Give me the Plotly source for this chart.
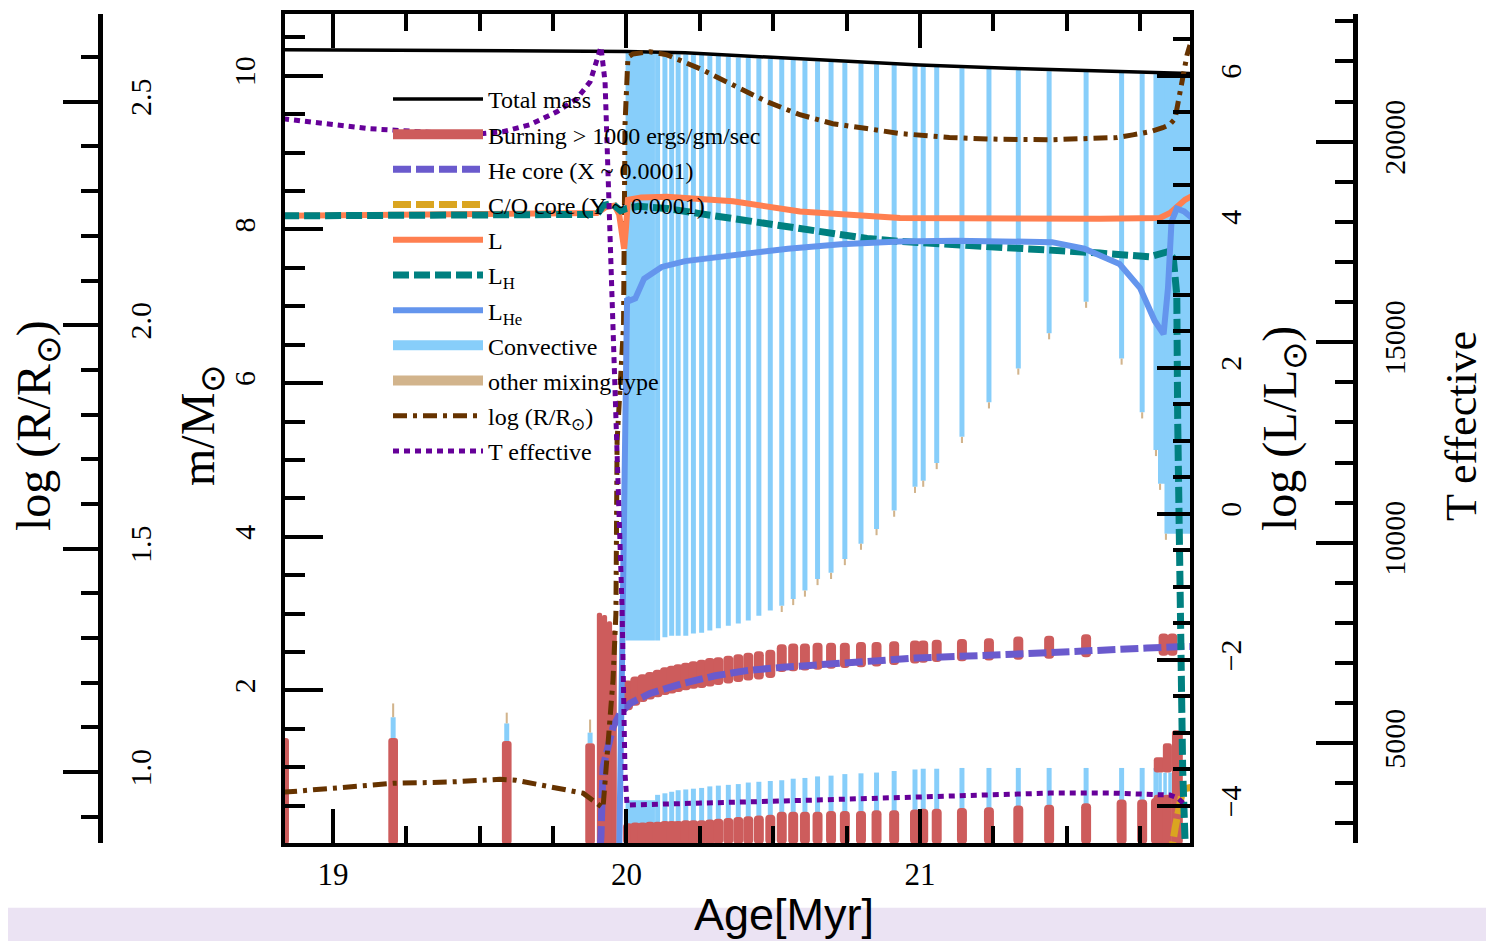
import plotly.graph_objects as go

# ---------------- data ----------------
# Total mass (m/Msun)
mass_age = [18.83, 19.90, 20.0, 20.2, 20.4, 20.6, 20.8, 21.0, 21.3, 21.6, 21.927]
mass_val = [10.34, 10.325, 10.318, 10.30, 10.26, 10.22, 10.18, 10.14, 10.10, 10.065, 10.03]

# Envelope convective stripes (age, lower / upper boundary in m/Msun)
conv_age = [20.106, 20.131, 20.154, 20.176, 20.202, 20.228, 20.256, 20.284, 20.313, 20.347,
            20.381, 20.415, 20.451, 20.490, 20.529, 20.568, 20.608, 20.651, 20.697, 20.744,
            20.799, 20.852, 20.912, 20.983, 21.011, 21.057, 21.143, 21.235, 21.335, 21.440,
            21.566, 21.687, 21.757, 21.804]
conv_bot = [2.65, 2.69, 2.71, 2.71, 2.71, 2.74, 2.75, 2.78, 2.81, 2.84,
            2.87, 2.91, 2.97, 3.04, 3.10, 3.19, 3.30, 3.45, 3.53, 3.71,
            3.91, 4.10, 4.34, 4.65, 4.73, 4.96, 5.30, 5.75, 6.19, 6.65,
            7.06, 6.32, 5.62, 5.13]
conv_top = [10.29, 10.29, 10.29, 10.28, 10.28, 10.27, 10.27, 10.26, 10.26, 10.25,
            10.24, 10.24, 10.23, 10.22, 10.22, 10.21, 10.20, 10.19, 10.18, 10.17,
            10.16, 10.15, 10.14, 10.13, 10.12, 10.12, 10.10, 10.09, 10.08, 10.06,
            10.05, 10.04, 10.03, 10.02]
# Wide convective blocks
blk_age = [20.047, 21.823, 21.879]
blk_bot = [2.65, 4.69, 4.04]
blk_top = [10.30, 10.02, 10.01]
blk_w = [0.100, 0.024, 0.092]

# Central convective core stripes
core_conv_age = [20.047] + conv_age + [21.818, 21.835, 21.852]
core_conv_bot = [0.0] * 35 + [0.64, 0.64, 0.64]
core_conv_top = [0.57, 0.64, 0.66, 0.68, 0.70, 0.71, 0.72, 0.73, 0.75, 0.76,
                 0.77, 0.78, 0.80, 0.81, 0.82, 0.83, 0.85, 0.86, 0.88, 0.89,
                 0.91, 0.92, 0.93, 0.95, 0.97, 0.98, 0.98, 0.99, 0.99, 0.99,
                 0.99, 0.99, 0.99, 0.99, 0.99, 0.93, 0.93, 0.93]
core_conv_w = [0.100] + [0.017] * 34 + [0.012, 0.012, 0.012]

# Early convective tips (before 20 Myr)
pre_conv_age = [19.205, 19.592, 19.876]
pre_conv_bot = [1.38, 1.34, 1.31]
pre_conv_top = [1.65, 1.57, 1.45]

# Other mixing type (small tan tips)
other_age = [19.205, 19.592, 19.876, 20.529, 20.568, 20.608, 20.651, 20.697, 20.744, 20.799,
             20.852, 20.912, 20.983, 21.011, 21.057, 21.143, 21.235, 21.335, 21.440, 21.566,
             21.687, 21.757, 21.804, 21.818, 21.838]
other_bot = [1.65, 1.57, 1.45, 3.02, 3.11, 3.22, 3.37, 3.45, 3.63, 3.83,
             4.02, 4.26, 4.57, 4.65, 4.88, 5.22, 5.67, 6.11, 6.57, 6.98,
             6.24, 5.54, 5.05, 4.61, 3.96]
other_top = [1.83, 1.71, 1.62, 3.10, 3.19, 3.30, 3.45, 3.53, 3.71, 3.91,
             4.10, 4.34, 4.65, 4.73, 4.96, 5.30, 5.75, 6.19, 6.65, 7.06,
             6.32, 5.62, 5.13, 4.69, 4.04]

# Burning > 1000 erg/g/s : shell region
burn_shell_age = [20.005, 20.030, 20.055, 20.080, 20.106, 20.131, 20.154, 20.176, 20.202, 20.228,
                  20.256, 20.284, 20.313, 20.347, 20.381, 20.415, 20.451, 20.490, 20.529, 20.568,
                  20.608, 20.651, 20.697, 20.744, 20.799, 20.852, 20.912, 20.983, 21.011, 21.057,
                  21.143, 21.235, 21.335, 21.440, 21.566, 21.830, 21.860]
burn_shell_bot = [1.74, 1.80, 1.85, 1.88, 1.91, 1.94, 1.96, 1.98, 2.00, 2.02,
                  2.03, 2.05, 2.07, 2.09, 2.11, 2.13, 2.14, 2.16, 2.24, 2.25,
                  2.26, 2.27, 2.28, 2.29, 2.30, 2.31, 2.33, 2.35, 2.36, 2.37,
                  2.38, 2.39, 2.40, 2.41, 2.43, 2.45, 2.45]
burn_shell_top = [2.13, 2.18, 2.21, 2.24, 2.27, 2.30, 2.32, 2.34, 2.36, 2.38,
                  2.40, 2.42, 2.43, 2.45, 2.47, 2.49, 2.51, 2.53, 2.60, 2.61,
                  2.61, 2.62, 2.62, 2.62, 2.63, 2.63, 2.64, 2.65, 2.65, 2.66,
                  2.67, 2.68, 2.70, 2.71, 2.73, 2.74, 2.74]
# Burning : central region
burn_core_age = [20.005, 20.030, 20.055, 20.080] + conv_age
burn_core_top = [0.27, 0.28, 0.28, 0.29, 0.29, 0.30, 0.30, 0.30, 0.31, 0.31,
                 0.31, 0.32, 0.33, 0.34, 0.35, 0.36, 0.37, 0.38, 0.42, 0.42,
                 0.42, 0.42, 0.43, 0.43, 0.43, 0.44, 0.44, 0.45, 0.46, 0.46,
                 0.47, 0.48, 0.50, 0.51, 0.53, 0.58, 0.58, 0.60]
# Burning : early models, hook spike, final stages
burn_misc_age = [18.835, 19.205, 19.592, 19.876, 19.908, 19.925, 19.942, 19.958,
                 21.815, 21.843, 21.815, 21.843, 21.877]
burn_misc_bot = [0, 0, 0, 0, 0, 0, 0, 0, 0, 0, 0.93, 0.93, 0]
burn_misc_top = [1.38, 1.38, 1.34, 1.31, 3.01, 2.98, 2.90, 2.78, 0.64, 0.64, 1.13, 1.31, 1.48]
burn_misc_w = [0.030, 0.033, 0.033, 0.033, 0.018, 0.018, 0.018, 0.018,
               0.037, 0.031, 0.037, 0.031, 0.037]

# He core boundary (X < 0.0001)
he_age = [19.905, 19.913, 19.920, 19.937, 19.954, 19.978, 20.012, 20.080, 20.192, 20.302,
          20.414, 20.530, 20.642, 20.755, 20.870, 20.983, 21.317, 21.545, 21.773, 21.903, 21.927]
he_m = [-0.3, 0.09, 1.00, 1.26, 1.52, 1.70, 1.83, 1.96, 2.09, 2.19,
        2.26, 2.30, 2.34, 2.36, 2.39, 2.42, 2.47, 2.52, 2.55, 2.57, 2.57]
# C/O core boundary
co_age = [21.852, 21.859, 21.869, 21.879, 21.893, 21.903, 21.927]
co_m = [-0.2, 0.05, 0.20, 0.40, 0.66, 0.72, 0.74]

# log L/Lsun (total, H, He)
L_age = [18.83, 19.20, 19.60, 19.90, 19.93, 19.96, 19.975, 19.985, 19.992, 19.998,
         20.005, 20.05, 20.138, 20.363, 20.591, 20.932, 21.272, 21.613, 21.817, 21.852,
         21.903, 21.927]
L_val = [4.08, 4.09, 4.10, 4.12, 4.20, 4.22, 4.10, 3.75, 3.63, 3.90,
         4.30, 4.33, 4.34, 4.28, 4.14, 4.05, 4.04, 4.04, 4.05, 4.12,
         4.30, 4.35]
LH_age = [18.83, 19.60, 19.90, 19.92, 19.95, 19.98, 20.0, 20.04, 20.138, 20.25,
          20.363, 20.477, 20.591, 20.705, 20.82, 20.932, 21.272, 21.613, 21.783, 21.845,
          21.863, 21.875, 21.878, 21.885, 21.895, 21.905]
LH_val = [4.08, 4.10, 4.10, 4.22, 4.25, 4.15, 4.18, 4.21, 4.18, 4.11,
          4.04, 3.96, 3.89, 3.83, 3.77, 3.73, 3.66, 3.57, 3.52, 3.59,
          3.50, 3.00, 1.30, -1.00, -3.50, -4.70]
LHe_age = [18.83, 19.97, 19.985, 19.995, 20.002, 20.012, 20.03, 20.06, 20.12, 20.20,
           20.37, 20.55, 20.73, 20.93, 21.12, 21.30, 21.45, 21.56, 21.68, 21.75,
           21.80, 21.83, 21.845, 21.857, 21.875, 21.90, 21.927]
LHe_val = [-6.0, -6.0, -2.0, 1.5, 2.95, 2.92, 2.95, 3.22, 3.38, 3.46,
           3.55, 3.63, 3.69, 3.73, 3.74, 3.74, 3.72, 3.63, 3.42, 3.09,
           2.64, 2.46, 3.09, 4.00, 4.18, 4.14, 4.05]

# log R/Rsun
R_age = [18.83, 19.0, 19.205, 19.399, 19.569, 19.623, 19.739, 19.852, 19.92, 19.937,
         19.954, 19.964, 19.968, 19.99, 19.995, 20.005, 20.022, 20.08, 20.138, 20.25,
         20.363, 20.479, 20.591, 20.703, 20.819, 20.932, 21.1, 21.27, 21.443, 21.556,
         21.671, 21.725, 21.783, 21.827, 21.851, 21.869, 21.879, 21.896, 21.910, 21.920]
R_val = [0.955, 0.964, 0.975, 0.978, 0.984, 0.982, 0.967, 0.953, 0.920, 1.056,
         1.205, 1.355, 1.74, 2.00, 2.45, 2.60, 2.607, 2.612, 2.605, 2.574,
         2.538, 2.50, 2.471, 2.451, 2.440, 2.429, 2.42, 2.416, 2.415, 2.417,
         2.42, 2.426, 2.433, 2.442, 2.449, 2.462, 2.50, 2.551, 2.605, 2.627]

# Effective temperature (K)
T_age = [18.83, 19.126, 19.296, 19.467, 19.579, 19.671, 19.763, 19.831, 19.876, 19.913,
         19.927, 19.937, 19.951, 19.961, 19.971, 19.985, 19.995, 20.002, 20.302, 20.642,
         20.983, 21.443, 21.658, 21.783, 21.852, 21.879, 21.910]
T_val = [20572, 20323, 20249, 20174, 20249, 20423, 20746, 21070, 21493, 22363,
         21493, 19005, 16517, 14030, 11542, 8383, 4254, 3458, 3508, 3582,
         3657, 3756, 3756, 3707, 3707, 3632, 3408]

# ---------------- styling / geometry ----------------
OFF = 8                     # page body margin of the html page
W, H = 1494 - OFF, 941 - OFF
ML, MR, MT = 2, 2, 12 - OFF
MB = H - (843 - OFF)
PW = W - ML - MR
PH = H - MT - MB


def pxx(px):
    """screen pixel x -> paper x"""
    return (px - OFF - ML) / PW


def pxy(py):
    """screen pixel y -> paper y"""
    return (H - MB - (py - OFF)) / PH


C_CONV = '#87CEFA'
C_OTHER = '#D2B48C'
C_BURN = '#CD5C5C'
C_HE = '#6A5ACD'
C_CO = '#DAA520'
C_L = '#FF7F50'
C_LH = '#008080'
C_LHE = '#6495ED'
C_R = '#663300'
C_T = '#660099'
SERIF = 'Liberation Serif'


def bars(ages, bots, tops, widths, color, radius=0):
    return go.Bar(x=ages, base=bots, y=[t - b for t, b in zip(tops, bots)],
                  width=widths, marker=dict(color=color, line=dict(width=0), cornerradius=radius),
                  showlegend=False, hoverinfo='skip', xaxis='x', yaxis='y')


fig = go.Figure()
# Kippenhahn regions (m axis)
fig.add_trace(bars(conv_age, conv_bot, conv_top, [0.017] * len(conv_age), C_CONV))
fig.add_trace(bars(blk_age, blk_bot, blk_top, blk_w, C_CONV))
fig.add_trace(bars(core_conv_age, core_conv_bot, core_conv_top, core_conv_w, C_CONV))
fig.add_trace(bars(pre_conv_age, pre_conv_bot, pre_conv_top, [0.017] * 3, C_CONV))
fig.add_trace(bars(other_age, other_bot, other_top, [0.007] * len(other_age), C_OTHER))
fig.add_trace(bars(burn_shell_age, burn_shell_bot, burn_shell_top,
                   [0.034] * len(burn_shell_age), C_BURN, 4))
fig.add_trace(bars(burn_core_age, [0.0] * len(burn_core_age), burn_core_top,
                   [0.034] * len(burn_core_age), C_BURN, 4))
fig.add_trace(bars(burn_misc_age, burn_misc_bot, burn_misc_top, burn_misc_w, C_BURN, 3))


def line(x, y, name, color, width, dash, rank, axis):
    return go.Scatter(x=x, y=y, mode='lines', name=name, legendgroup=name,
                      line=dict(color=color, width=width, dash=dash),
                      legendrank=rank, yaxis=axis, hoverinfo='skip')


# lines on the mass axis
fig.add_trace(line(mass_age, mass_val, 'Total mass', 'black', 3.5, 'solid', 1, 'y'))
fig.add_trace(line(he_age, he_m, 'He core (X ~ 0.0001)', C_HE, 7, '18px,5px', 3, 'y'))
fig.add_trace(line(co_age, co_m, 'C/O core (Y ~ 0.0001)', C_CO, 7, '18px,5px', 4, 'y'))
# radius
fig.add_trace(line(R_age, R_val, 'log (R/R<sub>⊙</sub>)', C_R, 5, '14px,6px,4px,6px', 10, 'y2'))
# luminosities
fig.add_trace(line(L_age, L_val, 'L', C_L, 6, 'solid', 5, 'y3'))
fig.add_trace(line(LH_age, LH_val, 'L<sub>H</sub>', C_LH, 7, '16px,5px', 6, 'y3'))
fig.add_trace(line(LHe_age, LHe_val, 'L<sub>He</sub>', C_LHE, 6, 'solid', 7, 'y3'))
# effective temperature
fig.add_trace(line(T_age, T_val, 'T effective', C_T, 5, '6px,5px', 11, 'y4'))

# legend entries for the filled regions
for nm, col, wd, rk in [('Burning > 1000 ergs/gm/sec', C_BURN, 10, 2),
                        ('Convective', C_CONV, 20, 8),
                        ('other mixing type', C_OTHER, 20, 9)]:
    fig.add_trace(line([None], [None], nm, col, wd, 'solid', rk, 'y'))

tickfont = dict(family=SERIF, size=30, color='black')
common = dict(showgrid=False, zeroline=False, showline=True, linecolor='black',
              tickcolor='black', tickwidth=4, ticks='inside', tickfont=tickfont)

fig.update_layout(
    width=W, height=H,
    margin=dict(l=ML, r=MR, t=MT, b=MB, pad=0),
    paper_bgcolor='white', plot_bgcolor='white',
    barmode='overlay',
    showlegend=True,
    legend=dict(x=pxx(388), y=pxy(75), xanchor='left', yanchor='top',
                bgcolor='rgba(0,0,0,0)', borderwidth=0, itemwidth=90,
                traceorder='grouped', tracegroupgap=1,
                font=dict(family=SERIF, size=24, color='black')),
    xaxis=dict(domain=[pxx(285), pxx(1190)], range=[18.8365, 21.920], linewidth=4,
               mirror='ticks', ticklen=34, tick0=19, dtick=1,
               minor=dict(ticks='inside', ticklen=17, tickwidth=4, tickcolor='black',
                          tick0=19, dtick=0.25, showgrid=False),
               ticklabelstandoff=1, **{**common, 'tickfont': dict(family=SERIF, size=31, color='black')}),
    yaxis=dict(domain=[0, 1], range=[0.013, 10.805], side='left', anchor='x', linewidth=4,
               ticklen=38, tickmode='array', tickvals=[2, 4, 6, 8, 10], tickangle=-90,
               minor=dict(ticks='inside', ticklen=20, tickwidth=4, tickcolor='black',
                          tickmode='linear', tick0=0, dtick=0.5, showgrid=False),
               ticklabelstandoff=14, **common),
    yaxis2=dict(overlaying='y', anchor='free', position=pxx(100), side='right',
                range=[0.8415, 2.6964], linewidth=5, ticklen=35, tick0=0, dtick=0.5,
                tickformat='.1f', tickangle=-90,
                minor=dict(ticks='inside', ticklen=17, tickwidth=4, tickcolor='black',
                           tick0=0, dtick=0.1, showgrid=False),
                ticklabelstandoff=12, **common),
    yaxis3=dict(overlaying='y', anchor='x', side='right', range=[-4.508, 6.844],
                linewidth=4, ticklen=33, tick0=0, dtick=2, tickangle=-90,
                minor=dict(ticks='inside', ticklen=17, tickwidth=4, tickcolor='black',
                           tick0=0, dtick=0.5, showgrid=False),
                ticklabelstandoff=11, **common),
    yaxis4=dict(overlaying='y', anchor='free', position=pxx(1355), side='right',
                range=[2512, 23184], linewidth=5, ticklen=37, tick0=0, dtick=5000,
                tickformat='d', tickangle=-90,
                minor=dict(ticks='inside', ticklen=18, tickwidth=4, tickcolor='black',
                           tick0=0, dtick=1000, showgrid=False),
                ticklabelstandoff=11, **common),
    shapes=[
        dict(type='rect', xref='paper', yref='paper', x0=pxx(0), x1=pxx(1500),
             y0=pxy(908), y1=pxy(945), fillcolor='#EBE3F3', line=dict(width=0), layer='below'),
    ],
    annotations=[
        dict(text='log (R/R<sub>⊙</sub>)', x=pxx(37), y=pxy(425), xref='paper', yref='paper',
             xanchor='center', yanchor='middle', showarrow=False, textangle=-90,
             font=dict(family=SERIF, size=48, color='black')),
        dict(text='m/M<sub>⊙</sub>', x=pxx(201), y=pxy(425), xref='paper', yref='paper',
             xanchor='center', yanchor='middle', showarrow=False, textangle=-90,
             font=dict(family=SERIF, size=48, color='black')),
        dict(text='log (L/L<sub>⊙</sub>)', x=pxx(1283), y=pxy(428), xref='paper', yref='paper',
             xanchor='center', yanchor='middle', showarrow=False, textangle=-90,
             font=dict(family=SERIF, size=48, color='black')),
        dict(text='T effective', x=pxx(1461), y=pxy(425), xref='paper', yref='paper',
             xanchor='center', yanchor='middle', showarrow=False, textangle=-90,
             font=dict(family=SERIF, size=44, color='black')),
        dict(text='Age[Myr]', x=pxx(784), y=pxy(915), xref='paper', yref='paper',
             xanchor='center', yanchor='middle', showarrow=False,
             font=dict(family='Liberation Sans', size=45, color='black')),
    ],
)

fig.write_html('out.html')
